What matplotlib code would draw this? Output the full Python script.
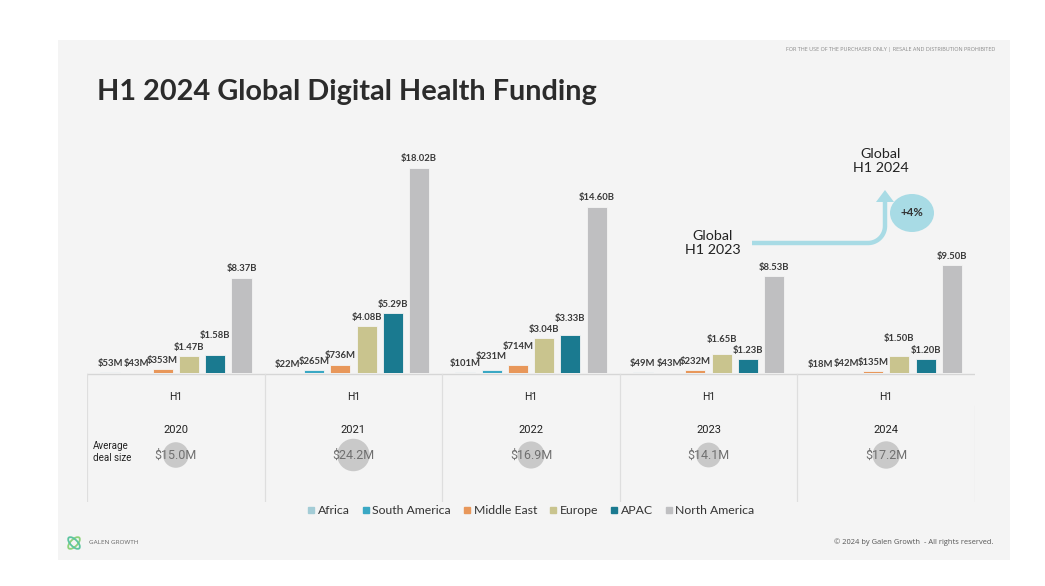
import numpy as np
import matplotlib.pyplot as plt
from matplotlib.patches import Rectangle, Ellipse, Polygon
from matplotlib.lines import Line2D

# ---------------- data (values in $B)
years = ['2020', '2021', '2022', '2023', '2024']
regions = ['Africa', 'South America', 'Middle East', 'Europe', 'APAC', 'North America']
africa = [0.053, 0.022, 0.101, 0.049, 0.018]
south_america = [0.043, 0.265, 0.231, 0.043, 0.042]
middle_east = [0.353, 0.736, 0.714, 0.232, 0.135]
europe = [1.47, 4.08, 3.04, 1.65, 1.50]
apac = [1.58, 5.29, 3.33, 1.23, 1.20]
north_america = [8.37, 18.02, 14.60, 8.53, 9.50]
avg_deal = [15.0, 24.2, 16.9, 14.1, 17.2]  # $M

series = [africa, south_america, middle_east, europe, apac, north_america]
colors = ['#a3ccd6', '#3aa8c4', '#e8975a', '#c9c48e', '#1a7a90', '#bfbfc1']
# extra lift (points) for labels that were nudged to avoid overlap
lift = {(0, 4): 8, (3, 3): 4, (4, 3): 6, (2, 1): 4, (2, 2): 7, (2, 4): 6}

W, H = 1045, 586
fig = plt.figure(figsize=(W / 100, H / 100), dpi=100)
fig.patch.set_facecolor('white')

# background panel
bg = fig.add_axes([0, 0, 1, 1], zorder=0)
bg.set_xlim(0, W); bg.set_ylim(H, 0); bg.axis('off')
bg.add_patch(Rectangle((58, 40), 952, 520, color='#f4f4f4', lw=0))

def box(x0, y0, x1, y1):
    return [x0 / W, 1 - y1 / H, (x1 - x0) / W, (y1 - y0) / H]

# ---------------- bars
ax = fig.add_axes(box(87, 120, 975, 373), zorder=2)
ax.patch.set_alpha(0)
x = np.arange(len(years))
step = 0.148
bw = 0.113
for k, (vals, c) in enumerate(zip(series, colors)):
    xs = x + (k - 2.5) * step
    ax.bar(xs, vals, width=bw, color=c, edgecolor='#f4f4f4', linewidth=0.6, zorder=2)
    for i, (xi, v) in enumerate(zip(xs, vals)):
        lab = f'${v * 1000:.0f}M' if v < 1 else f'${v:.2f}B'
        ax.annotate(lab, (xi, v), xytext=(0, 3 + lift.get((i, k), 0)), textcoords='offset points',
                    ha='center', va='bottom', fontsize=6.8, fontweight='bold',
                    color='#3a3a3a', family='Lato')
ax.set_xlim(-0.5, 4.5)
ax.set_ylim(0, 253 / 11.4)
ax.axis('off')

# ---------------- table under the bars
tab = fig.add_axes(box(87, 373, 975, 502), zorder=2)
tab.patch.set_alpha(0)
tab.set_xlim(-0.5, 4.5)
tab.set_ylim(502, 373)
tab.axis('off')
tab.plot([-0.5, 4.5], [373.5, 373.5], color='#d6d6d6', lw=1)
for b in np.arange(-0.5, 4.0, 1.0):
    tab.plot([b, b], [373.5, 502], color='#dedede', lw=0.9)
tab.plot([4.5, 4.5], [406, 502], color='#dedede', lw=0.9)
tab.scatter(x, [455] * len(x), s=[v * 22.6 for v in avg_deal], color='#c9c9c9', lw=0, zorder=2)
for xi, yr, v in zip(x, years, avg_deal):
    tab.text(xi, 397, 'H1', ha='center', va='center', fontsize=7.5, color='#222222', family='Roboto')
    tab.text(xi, 430, yr, ha='center', va='center', fontsize=8, color='#222222', family='Roboto')
    tab.text(xi, 455, f'${v:.1f}M', ha='center', va='center', fontsize=9, color='#707070',
             family='Roboto', zorder=3)

# ---------------- text & annotations
fg = fig.add_axes([0, 0, 1, 1], zorder=3)
fg.set_xlim(0, W); fg.set_ylim(H, 0); fg.axis('off')
fg.patch.set_alpha(0)

fg.text(97, 92, 'H1 2024 Global Digital Health Funding', fontsize=20.8, fontweight='bold',
        color='#2b2b2b', family='Lato', va='center', ha='left')
fg.text(995, 50, 'FOR THE USE OF THE PURCHASER ONLY | RESALE AND DISTRIBUTION PROHIBITED',
        fontsize=4.0, color='#8a8a8a', ha='right', va='center', family='Open Sans')
fg.text(993, 542, '\u00a9 2024 by Galen Growth  - All rights reserved.', fontsize=5.4,
        color='#555555', ha='right', va='center', family='Open Sans')
fg.text(89, 543, 'GALEN GROWTH', fontsize=4.6, color='#666666', ha='left', va='center', family='Open Sans')
fg.add_patch(Ellipse((74, 543), 7, 15, angle=45, fill=False, ec='#8cd27a', lw=1.3))
fg.add_patch(Ellipse((74, 543), 7, 15, angle=-45, fill=False, ec='#5cc4a0', lw=1.3))

fg.text(93, 452, 'Average\ndeal size', fontsize=7, color='#222222', family='Roboto',
        ha='left', va='center', linespacing=1.15)

fg.text(713, 243, 'Global\nH1 2023', fontsize=10.3, color='#222222', family='Lato',
        ha='center', va='center', linespacing=1.3)
fg.text(881, 161, 'Global\nH1 2024', fontsize=10.3, color='#222222', family='Lato',
        ha='center', va='center', linespacing=1.3)

arrow_c = '#a8dbe5'
t = np.linspace(np.pi / 2, 0, 30)
px = np.concatenate([[752, 868], 868 + 17 * np.cos(t), [885, 885]])
py = np.concatenate([[243, 243], 226 + 17 * np.sin(t), [226, 200]])
fg.plot(px, py, color=arrow_c, lw=3.2, solid_capstyle='butt')
fg.add_patch(Polygon([[876, 202], [894, 202], [885, 190]], closed=True, color=arrow_c, lw=0))
fg.add_patch(Ellipse((912, 213), 44, 38, color=arrow_c, lw=0))
fg.text(912, 213, '+4%', fontsize=8.3, fontweight='bold', color='#333333', family='Lato',
        ha='center', va='center')

# legend
handles = [Line2D([0], [0], marker='s', linestyle='none', markersize=5,
                  markerfacecolor=c, markeredgecolor=c) for c in colors]
fig.legend(handles, regions, loc='center', bbox_to_anchor=(531 / W, 1 - 511 / H), ncol=6,
           frameon=False, handlelength=0.6, handletextpad=0.25, columnspacing=1.0,
           prop={'family': 'Lato', 'size': 8.8}, labelcolor='#333333')

fig.savefig('out.png', dpi=100, facecolor='white')
